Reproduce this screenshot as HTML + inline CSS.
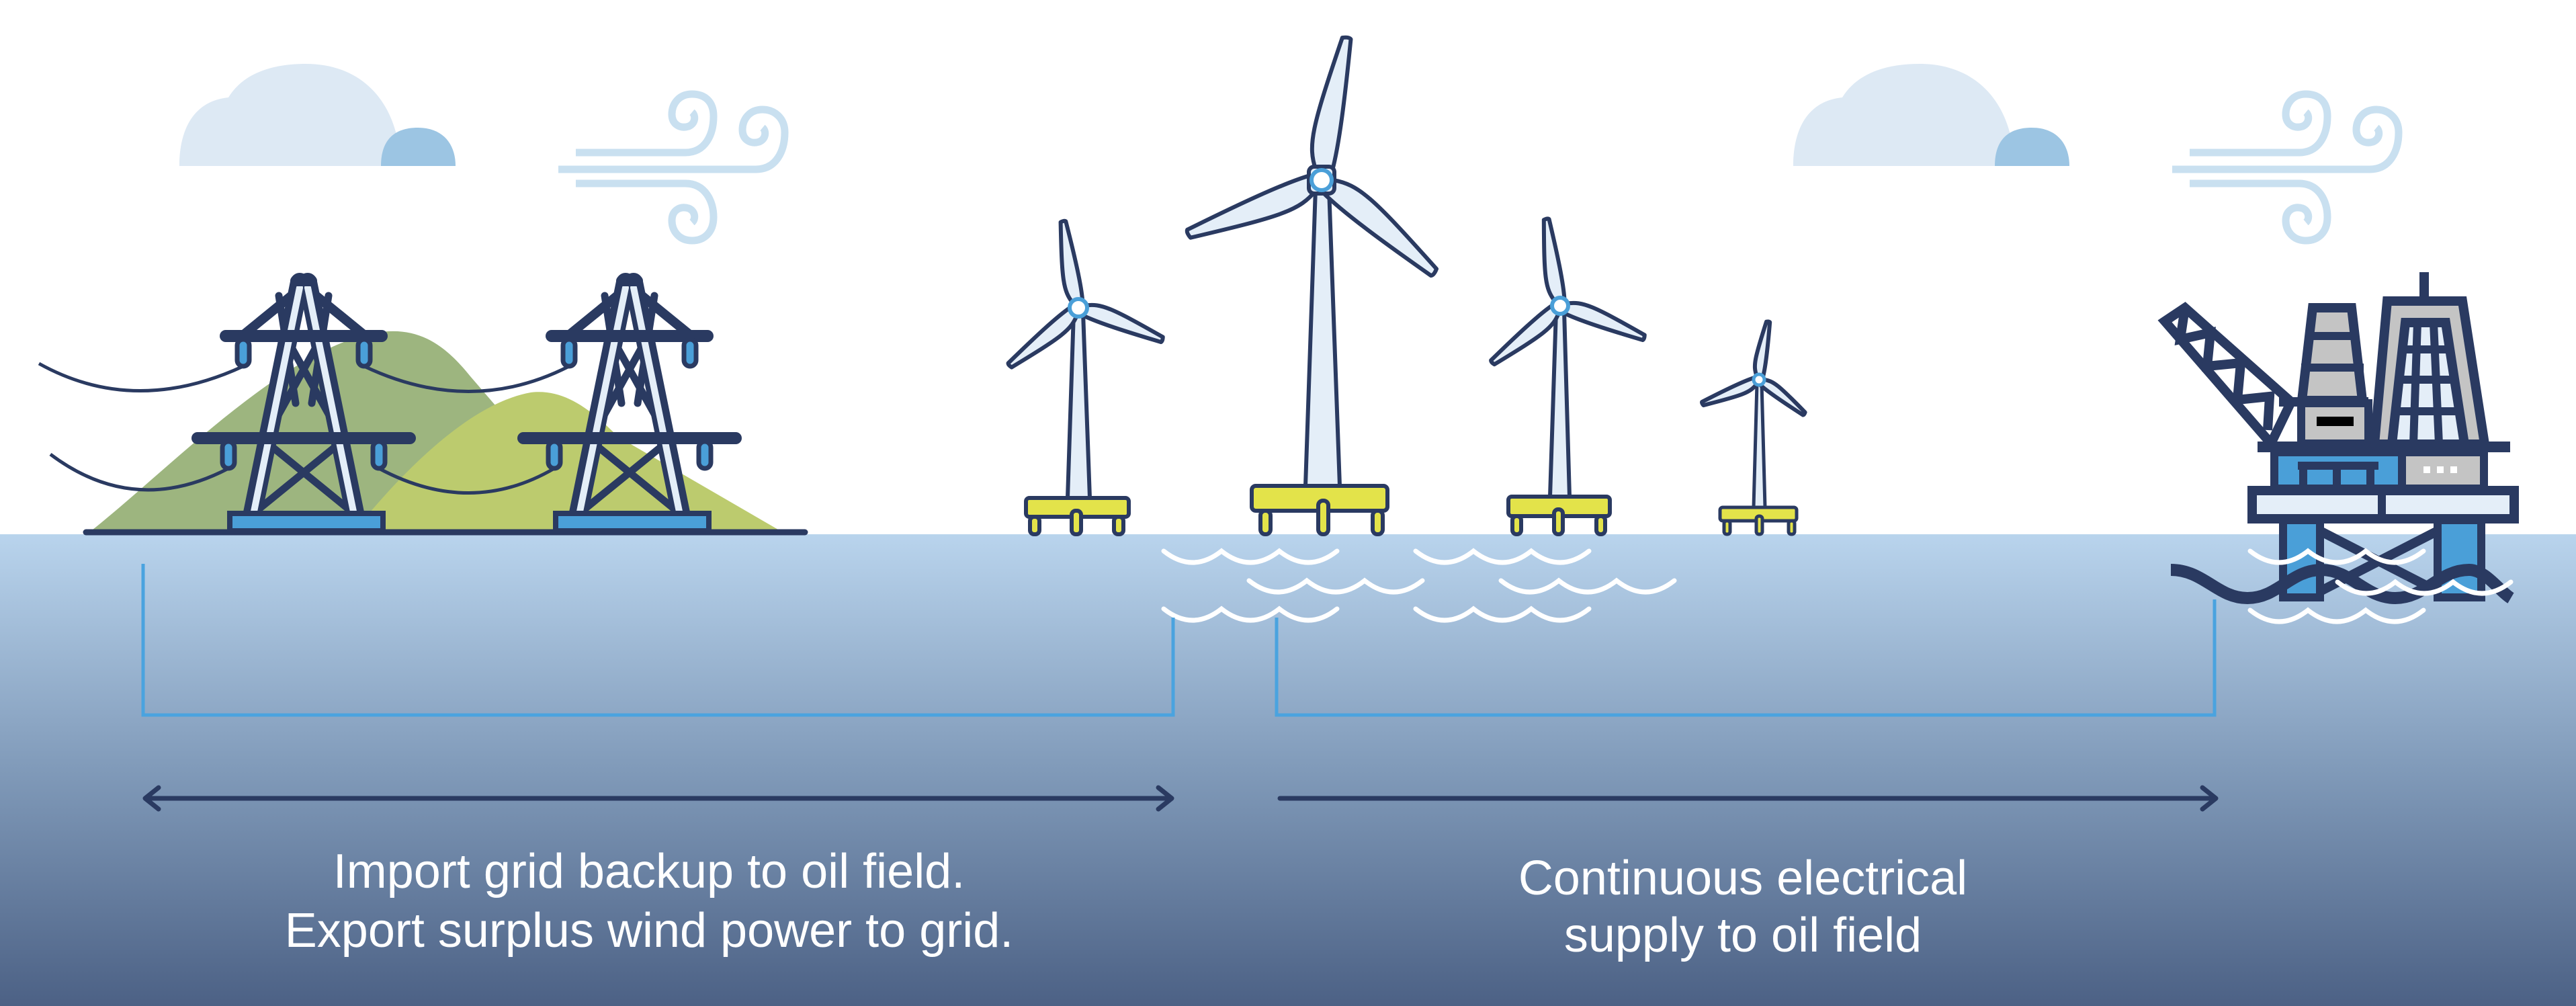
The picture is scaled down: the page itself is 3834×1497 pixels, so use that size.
<!DOCTYPE html>
<html><head><meta charset="utf-8"><style>
html,body{margin:0;padding:0;background:#fff;}
svg{display:block;}
</style></head><body>
<svg width="3834" height="1497" viewBox="0 0 3834 1497" xmlns="http://www.w3.org/2000/svg">
<defs>
<linearGradient id="water" x1="0" y1="0" x2="0" y2="1">
<stop offset="0" stop-color="#b9d4ed"/>
<stop offset="0.5" stop-color="#809ab9"/>
<stop offset="1" stop-color="#4c6185"/>
</linearGradient>
<path id="blade" d="M6,-5 C22,-14 35,-13 100,-3 C101,0 101,2 100,3 C60,6 25,8 6,6 Z" fill="#e4eef8" stroke="#2a3a61" stroke-width="6" stroke-linejoin="round" vector-effect="non-scaling-stroke"/>
<g id="cloud">
<path d="M267,247 C267,190 290,150 340,145 C360,112 400,95 455,95 C530,95 575,140 590,200 L600,247 Z" fill="#dde9f4"/>
<path d="M567,247 C567,210 585,190 622,190 C660,190 678,215 678,247 Z" fill="#9cc5e3"/>
</g>
<g id="wind" fill="none" stroke="#c9e0f0" stroke-width="11" stroke-linecap="butt">
<path d="M857,227 L1020,227 C1050,227 1062,200 1062,173 C1062,150 1048,140 1030,140 C1010,140 1000,155 1000,170 C1000,185 1012,192 1025,188 C1035,184 1036,172 1030,167"/>
<path d="M831,252 L1125,252 C1155,252 1168,225 1168,197 C1168,175 1152,163 1135,163 C1115,163 1105,178 1105,193 C1105,208 1117,215 1130,211 C1140,207 1141,195 1135,190"/>
<path d="M857,273 L1020,273 C1050,273 1062,300 1062,323 C1062,346 1048,358 1030,358 C1010,358 1000,343 1000,328 C1000,313 1012,306 1025,310 C1035,314 1036,326 1030,331"/>
</g>
<g id="pylon" stroke-linecap="round" stroke-linejoin="round" fill="none">
<path d="M446,430 L360,500 M458,430 L544,500" stroke="#2a3a61" stroke-width="14"/>
<path d="M430,510 L505,645 M474,510 L399,645 M399,660 L528,765 M505,660 L376,765 M415,440 L440,600 M489,440 L464,600" stroke="#2a3a61" stroke-width="11"/>
<path d="M446,420 L375,768 M458,420 L529,768" stroke="#2a3a61" stroke-width="28"/>
<path d="M446,428 L377,766 M458,428 L527,766" stroke="#e4eef8" stroke-width="10"/>
<path d="M440,418 L464,418" stroke="#2a3a61" stroke-width="16"/>
<path d="M336,500 L568,500" stroke="#2a3a61" stroke-width="18"/>
<path d="M294,652 L610,652" stroke="#2a3a61" stroke-width="18"/>
<g fill="#4a9fd8" stroke="#2a3a61" stroke-width="7">
<rect x="353" y="505" width="18" height="40" rx="9"/>
<rect x="533" y="505" width="18" height="40" rx="9"/>
<rect x="331" y="657" width="18" height="40" rx="9"/>
<rect x="555" y="657" width="18" height="40" rx="9"/>
</g>
<rect x="342" y="764" width="228" height="26" fill="#4a9fd8" stroke="#2a3a61" stroke-width="8" stroke-linejoin="miter"/>
</g>
<g id="wv" fill="none" stroke="#fff" stroke-width="7" stroke-linecap="round">
<path d="M0,0 q43,34 86,0 q43,34 86,0 q43,34 86,0"/>
</g>
</defs>

<rect x="0" y="0" width="3834" height="1497" fill="#fff"/>
<rect x="0" y="795" width="3834" height="702" fill="url(#water)"/>

<use href="#cloud"/>
<use href="#cloud" transform="translate(2402,0)"/>
<use href="#wind"/>
<use href="#wind" transform="translate(2402,0)"/>

<path d="M133,792 C250,700 420,520 560,495 C620,485 660,510 700,560 L900,792 Z" fill="#9db57f"/>
<path d="M526,792 C600,700 700,600 790,584 C840,578 880,610 920,650 L1165,792 Z" fill="#bccb6e"/>

<g fill="none" stroke="#2a3a61" stroke-width="5">
<path d="M58,541 Q200,620 362,545"/>
<path d="M75,676 Q200,770 340,697"/>
<path d="M542,545 Q700,620 847,545"/>
<path d="M564,697 Q700,770 825,697"/>
</g>

<use href="#pylon"/>
<use href="#pylon" transform="translate(485,0)"/>
<line x1="128" y1="792" x2="1198" y2="792" stroke="#2a3a61" stroke-width="9" stroke-linecap="round"/>

<!-- turbines -->
<g stroke="#2a3a61" stroke-width="6" stroke-linejoin="round" stroke-linecap="round">
<!-- T1 -->
<g>
<polygon points="1598,465 1612,465 1622,741 1589,741" fill="#e4eef8"/>
<use href="#blade" transform="translate(1605,458) rotate(-100) scale(1.3)"/>
<use href="#blade" transform="translate(1605,458) rotate(20.8) scale(1.33)"/>
<use href="#blade" transform="translate(1605,458) rotate(140) scale(1.33)"/>
<circle cx="1605" cy="458" r="13" fill="#fff" stroke="#4a9fd8"/>
<g fill="#e3e34a"><rect x="1527" y="741" width="153" height="28" rx="5"/>
<rect x="1533" y="769" width="14" height="26" rx="6"/><rect x="1595" y="760" width="14" height="35" rx="6"/><rect x="1658" y="769" width="14" height="26" rx="6"/></g>
</g>
<!-- T2 -->
<g>
<polygon points="1958,280 1978,280 1994,723 1943,723" fill="#e4eef8"/>
<use href="#blade" transform="translate(1967,268) rotate(-80) scale(2.14)"/>
<use href="#blade" transform="translate(1967,268) rotate(158) scale(2.13)"/>
<use href="#blade" transform="translate(1967,268) rotate(39.4) scale(2.16)"/>
<rect x="1948" y="248" width="38" height="40" rx="8" fill="#e4eef8"/>
<circle cx="1967" cy="268" r="15" fill="#fff" stroke="#4a9fd8"/>
<g fill="#e3e34a"><rect x="1863" y="723" width="202" height="37" rx="6"/>
<rect x="1876" y="760" width="15" height="35" rx="7"/><rect x="1962" y="745" width="15" height="50" rx="7"/><rect x="2043" y="760" width="15" height="35" rx="7"/></g>
</g>
<!-- T3 -->
<g>
<polygon points="2316,462 2328,462 2336,739 2307,739" fill="#e4eef8"/>
<use href="#blade" transform="translate(2322,455) rotate(-99) scale(1.3)"/>
<use href="#blade" transform="translate(2322,455) rotate(20.8) scale(1.33)"/>
<use href="#blade" transform="translate(2322,455) rotate(140) scale(1.31)"/>
<circle cx="2322" cy="455" r="12" fill="#fff" stroke="#4a9fd8"/>
<g fill="#e3e34a"><rect x="2245" y="739" width="151" height="29" rx="5"/>
<rect x="2251" y="768" width="13" height="27" rx="6"/><rect x="2313" y="758" width="13" height="37" rx="6"/><rect x="2376" y="768" width="13" height="27" rx="6"/></g>
</g>
<!-- T4 -->
<g stroke-width="5">
<polygon points="2615,570 2622,570 2627,755 2610,755" fill="#e4eef8"/>
<use href="#blade" transform="translate(2618,565) rotate(-81) scale(0.87)"/>
<use href="#blade" transform="translate(2618,565) rotate(157) scale(0.91)"/>
<use href="#blade" transform="translate(2618,565) rotate(37) scale(0.84)"/>
<circle cx="2618" cy="565" r="8" fill="#fff" stroke="#4a9fd8"/>
<g fill="#e3e34a"><rect x="2560" y="755" width="114" height="20" rx="4"/>
<rect x="2566" y="775" width="9" height="20" rx="4"/><rect x="2614" y="768" width="9" height="27" rx="4"/><rect x="2662" y="775" width="9" height="20" rx="4"/></g>
</g>
</g>

<use href="#wv" transform="translate(1732,820)"/>
<use href="#wv" transform="translate(2107,820)"/>
<use href="#wv" transform="translate(1859,864)"/>
<use href="#wv" transform="translate(2234,864)"/>
<use href="#wv" transform="translate(1732,906)"/>
<use href="#wv" transform="translate(2107,906)"/>

<!-- oil rig -->
<g stroke="#2a3a61" stroke-linejoin="miter">
<g fill="none" stroke-width="14">
<path d="M3222,478 L3252,458 L3410,598 L3380,660 Z"/>
<path d="M3252,458 L3245,505 L3290,495 L3285,545 L3335,540 L3330,595 L3378,590 L3375,640"/>
</g>
<line x1="3392" y1="598" x2="3525" y2="598" stroke-width="14"/>
<polygon points="3442,458 3500,458 3516,596 3426,596" fill="#c4c4c4" stroke-width="14"/>
<line x1="3432" y1="500" x2="3510" y2="500" stroke-width="12"/>
<line x1="3425" y1="547" x2="3518" y2="547" stroke-width="12"/>
<rect x="3425" y="600" width="100" height="60" fill="#c4c4c4" stroke-width="12"/>
<rect x="3448" y="620" width="55" height="14" fill="#000" stroke="none"/>
<line x1="3608" y1="405" x2="3608" y2="448" stroke-width="14"/>
<polygon points="3553,448 3665,448 3698,661 3534,661" fill="#c4c4c4" stroke-width="14"/>
<polygon points="3580,480 3640,480 3668,661 3560,661" fill="#e4eef8" stroke-width="14"/>
<line x1="3598" y1="480" x2="3592" y2="661" stroke-width="12"/>
<line x1="3622" y1="480" x2="3630" y2="661" stroke-width="12"/>
<line x1="3570" y1="520" x2="3650" y2="520" stroke-width="12"/>
<line x1="3566" y1="565" x2="3656" y2="565" stroke-width="12"/>
<line x1="3562" y1="612" x2="3662" y2="612" stroke-width="12"/>
<rect x="3360" y="657" width="376" height="16" fill="#2a3a61" stroke="none"/>
<rect x="3385" y="673" width="190" height="54" fill="#4a9fd8" stroke-width="12"/>
<path d="M3428,693 L3428,727 M3478,693 L3478,727 M3528,693 L3528,727 M3420,693 L3540,693" fill="none" stroke-width="12"/>
<rect x="3575" y="673" width="122" height="54" fill="#c4c4c4" stroke-width="12"/>
<rect x="3607" y="694" width="10" height="10" fill="#fff" stroke="none"/>
<rect x="3627" y="694" width="10" height="10" fill="#fff" stroke="none"/>
<rect x="3647" y="694" width="10" height="10" fill="#fff" stroke="none"/>
<rect x="3352" y="730" width="390" height="42" fill="#e4eef8" stroke-width="14"/>
<line x1="3545" y1="730" x2="3545" y2="772" stroke-width="12"/>
<rect x="3398" y="774" width="55" height="115" fill="#4a9fd8" stroke-width="12"/>
<rect x="3628" y="774" width="65" height="115" fill="#4a9fd8" stroke-width="12"/>
<path d="M3453,790 L3628,880 M3628,790 L3453,880" fill="none" stroke-width="14"/>
</g>
<use href="#wv" transform="translate(3349,820)"/>
<path d="M3231,848 C3280,848 3300,890 3345,890 C3390,890 3410,848 3455,848 C3500,848 3520,890 3565,890 C3610,890 3630,848 3675,848 C3700,848 3720,880 3737,890" fill="none" stroke="#2a3a61" stroke-width="18"/>
<use href="#wv" transform="translate(3479,866)"/>
<use href="#wv" transform="translate(3349,908)"/>

<g fill="none" stroke="#4aa3df" stroke-width="5">
<path d="M213,839 L213,1064 L1746,1064 L1746,919"/>
<path d="M1900,919 L1900,1064 L3296,1064 L3296,892"/>
</g>

<g stroke="#2a3a61" stroke-width="7" fill="none" stroke-linecap="round" stroke-linejoin="round">
<line x1="218" y1="1188" x2="1740" y2="1188"/>
<path d="M236,1172 L216,1188 L236,1204"/>
<path d="M1724,1172 L1744,1188 L1724,1204"/>
<line x1="1905" y1="1188" x2="3294" y2="1188"/>
<path d="M3278,1172 L3298,1188 L3278,1204"/>
</g>

<g fill="#fff" font-family="'Liberation Sans', sans-serif" font-size="72" text-anchor="middle">
<text x="966" y="1321">Import grid backup to oil field.</text>
<text x="966" y="1409">Export surplus wind power to grid.</text>
<text x="2594" y="1331">Continuous electrical</text>
<text x="2594" y="1416">supply to oil field</text>
</g>
</svg>
</body></html>
